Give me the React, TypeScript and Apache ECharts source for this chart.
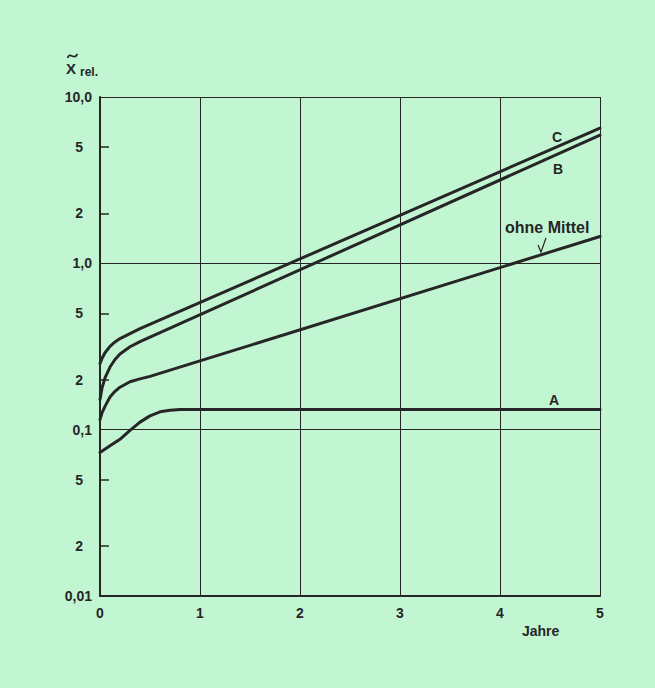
import React, { useEffect, useRef } from "react";
import * as echarts from "echarts";

const xC = [0, 0.02, 0.05, 0.1, 0.15, 0.2, 0.3, 0.4, 5];
const yC = [0.25, 0.268, 0.29, 0.317, 0.337, 0.353, 0.378, 0.405, 6.5];
const xB = [0, 0.02, 0.05, 0.1, 0.15, 0.2, 0.3, 0.4, 0.5, 5];
const yB = [0.152, 0.178, 0.205, 0.238, 0.264, 0.285, 0.315, 0.338, 0.36, 5.9];
const xO = [0, 0.02, 0.05, 0.1, 0.15, 0.2, 0.3, 0.4, 0.5, 5];
const yO = [0.115, 0.126, 0.138, 0.157, 0.17, 0.18, 0.194, 0.202, 0.209, 1.45];
const xA = [0, 0.1, 0.2, 0.3, 0.4, 0.5, 0.6, 0.7, 0.8, 5];
const yA = [0.073, 0.08, 0.0875, 0.099, 0.111, 0.121, 0.128, 0.131, 0.132, 0.132];
const yTickValues = [0.01, 0.02, 0.05, 0.1, 0.2, 0.5, 1, 2, 5, 10];
const yMinorTicks = [0.02, 0.05, 0.2, 0.5, 2, 5];
const yTickLabels: Record<string, string> = {
  "0.01": "0,01", "0.02": "2", "0.05": "5", "0.1": "0,1", "0.2": "2",
  "0.5": "5", "1": "1,0", "2": "2", "5": "5", "10": "10,0",
};
const xTickLabels = ["0", "1", "2", "3", "4", "5"];

const ink = "#262626";
const bg = "#c2f5d2";

function pairs(xs: number[], ys: number[]) {
  return xs.map((x, i) => [x, ys[i]]);
}

export default function App() {
  const ref = useRef<HTMLDivElement>(null);
  useEffect(() => {
    const chart = echarts.init(ref.current!, null, { renderer: "svg" });
    const font = "'Liberation Sans', Arial, sans-serif";
    const mkSeries = (data: number[][], extra: any = {}) => ({
      type: "line",
      data,
      smooth: false,
      showSymbol: false,
      symbol: "none",
      lineStyle: { color: ink, width: 3, join: "round", cap: "round" },
      yAxisIndex: 0,
      ...extra,
    });
    chart.setOption({
      animation: false,
      backgroundColor: bg,
      grid: { left: 100, right: 55, top: 97, bottom: 92 },
      xAxis: {
        type: "value",
        min: 0,
        max: 5,
        interval: 1,
        axisLine: { show: true, lineStyle: { color: ink, width: 2 } },
        axisTick: { show: false },
        splitLine: { show: true, lineStyle: { color: ink, width: 1 } },
        axisLabel: {
          margin: 10,
          fontSize: 14,
          fontWeight: "bold",
          fontFamily: font,
          color: ink,
          formatter: (v: number) => xTickLabels[Math.round(v)],
        },
      },
      yAxis: [
        {
          type: "log",
          logBase: 10,
          min: 0.01,
          max: 10,
          axisLine: { show: true, lineStyle: { color: ink, width: 2 } },
          axisTick: { show: false },
          axisLabel: { show: false },
          splitLine: { show: true, lineStyle: { color: ink, width: 1 } },
        },
        {
          type: "log",
          logBase: 10,
          min: 0.01,
          max: 10,
          position: "left",
          axisLine: { show: false },
          axisTick: { show: false },
          axisLabel: {
            show: true,
            customValues: yTickValues,
            margin: 8,
            fontSize: 14,
            fontWeight: "bold",
            fontFamily: font,
            color: ink,
            formatter: (v: number) => {
              const key = String(parseFloat(v.toPrecision(3)));
              const t = yTickLabels[key] ?? "";
              return t.length === 1 ? "{s|" + t + "}" : t;
            },
            rich: {
              s: {
                fontSize: 14,
                fontWeight: "bold",
                fontFamily: font,
                color: ink,
                padding: [0, 9, 0, 0],
              },
            },
          },
          splitLine: { show: false },
        },
      ],
      series: [
        mkSeries(pairs(xC, yC)),
        mkSeries(pairs(xB, yB)),
        mkSeries(pairs(xO, yO)),
        mkSeries(pairs(xA, yA), {
          markLine: {
            silent: true,
            symbol: "none",
            label: { show: false },
            lineStyle: { color: ink, width: 1.5, type: "solid" },
            data: yMinorTicks.map((v) => [
              { coord: [0, v] },
              { coord: [0.09, v] },
            ]),
          },
        }),
      ],
      graphic: [
        { type: "text", left: 66, top: 61, style: { text: "X", fontSize: 15, fontWeight: "bold", fontFamily: font, fill: ink } },
        {
          type: "bezierCurve",
          shape: { x1: 67.5, y1: 58, cpx1: 70, cpy1: 51, cpx2: 74, cpy2: 61, x2: 77.5, y2: 54 },
          style: { stroke: ink, lineWidth: 1.8, fill: "none" },
        },
        { type: "text", left: 80, top: 66, style: { text: "rel.", fontSize: 12, fontWeight: "bold", fontFamily: font, fill: ink } },
        { type: "text", left: 522, top: 624, style: { text: "Jahre", fontSize: 14, fontWeight: "bold", fontFamily: font, fill: ink } },
        { type: "text", left: 552, top: 130, style: { text: "C", fontSize: 14, fontWeight: "bold", fontFamily: font, fill: ink } },
        { type: "text", left: 553, top: 162, style: { text: "B", fontSize: 14, fontWeight: "bold", fontFamily: font, fill: ink } },
        { type: "text", left: 505, top: 219, style: { text: "ohne Mittel", fontSize: 16, fontWeight: "bold", fontFamily: font, fill: ink } },
        { type: "text", left: 549, top: 393, style: { text: "A", fontSize: 14, fontWeight: "bold", fontFamily: font, fill: ink } },
        {
          type: "polyline",
          shape: { points: [[538, 245], [541, 252], [546, 238]] },
          style: { stroke: ink, lineWidth: 1.2, fill: "none" },
        },
      ],
    });
    return () => chart.dispose();
  }, []);
  return (
    <div
      ref={ref}
      style={{ position: "fixed", left: 0, top: 0, width: 655, height: 688 }}
    />
  );
}
